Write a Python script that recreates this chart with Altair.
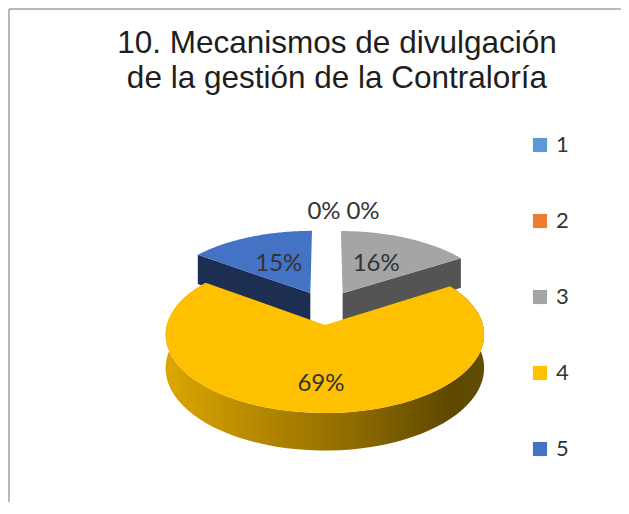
import altair as alt
import pandas as pd

# ---------------- data ----------------
CATEGORIES = ["1", "2", "3", "4", "5"]
PERCENTS = [0, 0, 16, 69, 15]
TITLE_LINES = ["10. Mecanismos de divulgación", "de la gestión de la Contraloría"]

TOP_COLORS = ["#5B9BD5", "#ED7D31", "#A5A5A5", "#FFC000", "#4472C4"]
DARK_COLORS = ["#2E5D87", "#8E4A1D", "#545454", "#8A6A00", "#1C2E52"]

df = pd.DataFrame({"cat": CATEGORIES, "value": PERCENTS, "idx": list(range(len(CATEGORIES)))})

# ---------------- geometry (style / layout) ----------------
W, HH = 613, 494
CX, CY = 318.0, 299.7      # pie centre in plot coordinates
RX, RY = 153.7, 73.0       # ellipse radii
P = 0.12                   # perspective strength
E = 0.23                   # explode distance (fraction of radius)
DEPTH = 32.0               # thickness of the pie
N = 72                     # arc resolution

X_EXPR = f"{CX} + {RX}*datum.u/(1 - {P}*datum.v)"
Y_EXPR = f"{CY} + ({RY}*datum.v + {DEPTH}*datum.h)/(1 - {P}*datum.v)"

xenc = alt.X("X:Q", scale=alt.Scale(domain=[0, W], nice=False, zero=False), axis=None)
yenc = alt.Y("Y:Q", scale=alt.Scale(domain=[HH, 0], nice=False, zero=False), axis=None)

base = (
    alt.Chart(df)
    .transform_joinaggregate(total="sum(value)")
    .transform_window(cum="sum(value)", sort=[alt.SortField("idx", order="ascending")], frame=[None, 0])
    .transform_calculate(frac="datum.value/datum.total")
    .transform_calculate(a0="2*PI*(datum.cum - datum.value)/datum.total")
    .transform_calculate(a1="2*PI*datum.cum/datum.total")
    .transform_calculate(am="(datum.a0 + datum.a1)/2")
    .transform_calculate(ox=f"{E}*sin(datum.am)")
    .transform_calculate(ov=f"-{E}*cos(datum.am)")
)

# top faces
top = (
    base.transform_calculate(k=f"sequence(0, {N + 2})")
    .transform_flatten(["k"])
    .transform_calculate(ang=f"datum.a0 + (datum.a1 - datum.a0)*max(datum.k - 1, 0)/{N}")
    .transform_calculate(r="datum.k == 0 ? 0 : 1")
    .transform_calculate(h="0")
    .transform_calculate(u="datum.ox + datum.r*sin(datum.ang)")
    .transform_calculate(v="datum.ov - datum.r*cos(datum.ang)")
    .transform_calculate(X=X_EXPR)
    .transform_calculate(Y=Y_EXPR)
    .mark_line(filled=True, strokeWidth=0)
    .encode(
        x=xenc,
        y=yenc,
        order=alt.Order("k:Q"),
        fill=alt.Fill(
            "cat:N",
            scale=alt.Scale(domain=CATEGORIES, range=TOP_COLORS),
            legend=alt.Legend(
                title=None,
                orient="none",
                legendX=521,
                legendY=126,
                direction="vertical",
                symbolType="square",
                symbolSize=200,
                symbolStrokeWidth=0,
                rowPadding=54,
                labelFont="Lato",
                labelFontSize=22,
                labelColor="#333333",
                labelOffset=5,
            ),
        ),
    )
)

# outer side wall (front part)
wall = (
    base.transform_filter("datum.a1 > datum.a0 && datum.a0 < 1.5*PI && datum.a1 > 0.5*PI")
    .transform_calculate(k=f"sequence(0, {2 * N + 2})")
    .transform_flatten(["k"])
    .transform_calculate(t=f"datum.k <= {N} ? datum.k/{N} : ({2 * N + 1} - datum.k)/{N}")
    .transform_calculate(h=f"datum.k <= {N} ? 0 : 1")
    .transform_calculate(ang="datum.a0 + (datum.a1 - datum.a0)*datum.t")
    .transform_calculate(u="datum.ox + sin(datum.ang)")
    .transform_calculate(v="datum.ov - cos(datum.ang)")
    .transform_calculate(X=X_EXPR)
    .transform_calculate(Y=Y_EXPR)
    .mark_line(
        filled=True,
        strokeWidth=0,
        fill=alt.Gradient(
            gradient="linear",
            x1=0, x2=1, y1=0, y2=0,
            stops=[
                alt.GradientStop(color="#DDA600", offset=0),
                alt.GradientStop(color="#B48700", offset=0.3),
                alt.GradientStop(color="#8C6A00", offset=0.6),
                alt.GradientStop(color="#5E4800", offset=0.9),
                alt.GradientStop(color="#624B03", offset=1),
            ],
        ),
    )
    .encode(x=xenc, y=yenc, order=alt.Order("k:Q"), detail="cat:N")
)

# radial cut faces visible from the front
rad = (
    base.transform_filter("datum.a1 > datum.a0")
    .transform_calculate(ea="sin(datum.a1) > 0.01 ? datum.a1 : (sin(datum.a0) < -0.01 ? datum.a0 : -1)")
    .transform_filter("datum.ea >= 0")
    .transform_calculate(k="sequence(0, 4)")
    .transform_flatten(["k"])
    .transform_calculate(r="(datum.k == 1 || datum.k == 2) ? 1 : 0")
    .transform_calculate(h="datum.k >= 2 ? 1 : 0")
    .transform_calculate(u="datum.ox + datum.r*sin(datum.ea)")
    .transform_calculate(v="datum.ov - datum.r*cos(datum.ea)")
    .transform_calculate(X=X_EXPR)
    .transform_calculate(Y=Y_EXPR)
    .mark_line(filled=True, strokeWidth=0)
    .encode(
        x=xenc,
        y=yenc,
        order=alt.Order("k:Q"),
        fill=alt.Fill("cat:N", scale=alt.Scale(domain=CATEGORIES, range=DARK_COLORS), legend=None),
    )
)

# percentage labels
labels = (
    base.transform_calculate(L="datum.value == 0 ? 1.32 : (datum.frac > 0.5 ? 0.7 : 0.5)")
    .transform_calculate(h="0")
    .transform_calculate(u="datum.ox + datum.L*sin(datum.am)")
    .transform_calculate(v="datum.ov - datum.L*cos(datum.am)")
    .transform_calculate(X0=X_EXPR)
    .transform_calculate(X="datum.X0 + (datum.value == 0 ? datum.idx*39 - 2 : 0)")
    .transform_calculate(Y=Y_EXPR)
    .transform_calculate(lbl="datum.value + '%'")
    .mark_text(font="Lato", fontSize=24, color="#333333", align="center", baseline="middle")
    .encode(x=xenc, y=yenc, text="lbl:N")
)

one = pd.DataFrame({"o": [0]})

title = (
    alt.Chart(one)
    .mark_text(font="Liberation Sans", fontSize=31.5, color="#1E1E1E", align="center",
               baseline="alphabetic", lineHeight=35)
    .encode(x=alt.value(329), y=alt.value(45), text=alt.value(TITLE_LINES))
)

border_top = alt.Chart(one).mark_rule(color="#A0A0A0", strokeWidth=1.5).encode(
    x=alt.value(1), x2=alt.value(W), y=alt.value(1)
)
border_left = alt.Chart(one).mark_rule(color="#A0A0A0", strokeWidth=1.5).encode(
    x=alt.value(1), y=alt.value(1), y2=alt.value(HH)
)

chart = (
    alt.layer(border_top, border_left, title, rad, wall, top, labels)
    .resolve_scale(fill="independent")
    .properties(width=W, height=HH, padding=0, autosize=alt.AutoSizeParams(type="none"),
                background="white")
    .configure_view(stroke=None)
)

chart.save("out.html", embed_options={"renderer": "svg", "actions": False})
